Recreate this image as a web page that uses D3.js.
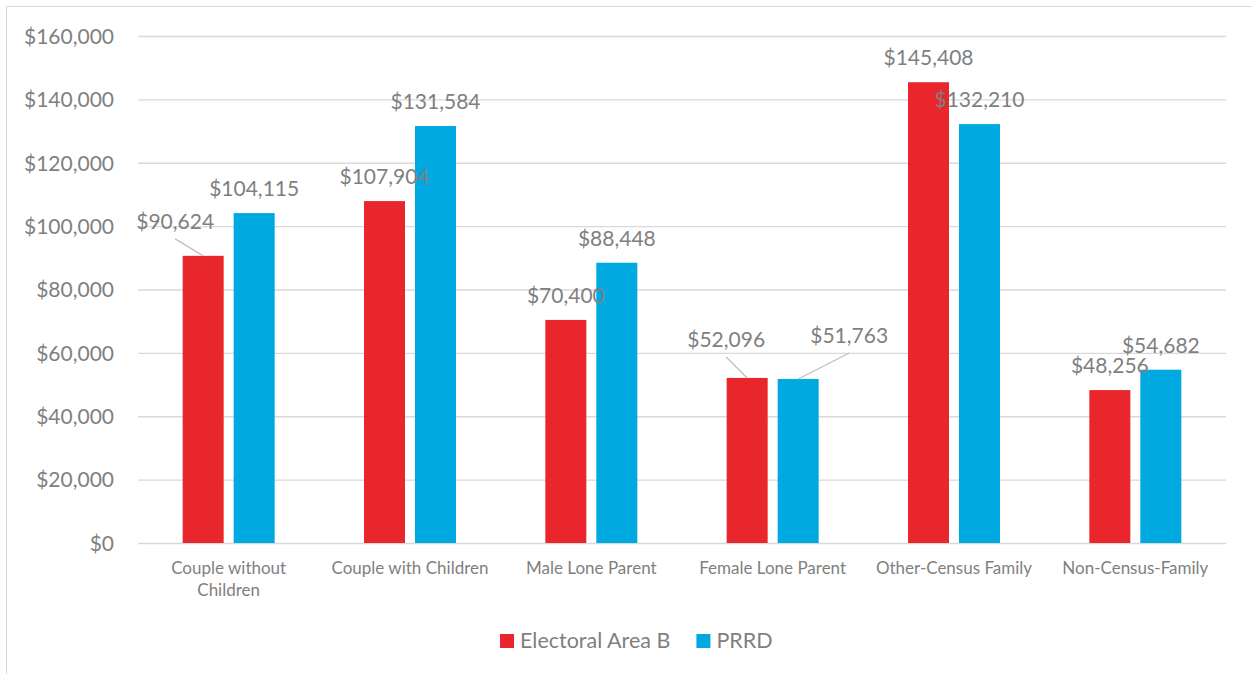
<!DOCTYPE html>
<html>
<head>
<meta charset="utf-8">
<script src="https://cdn.jsdelivr.net/npm/d3@7"></script>
<style>
  body { margin: 0; background: #fff; }
  text { font-family: Lato, "Open Sans", sans-serif; fill: #7f7f7f; }
</style>
</head>
<body>
<div id="chart"></div>
<script>
"use strict"

const WIDTH = 1252;
const HEIGHT = 674;

// data
const categories = [
	["Couple without", "Children"],
	["Couple with Children"],
	["Male Lone Parent"],
	["Female Lone Parent"],
	["Other-Census Family"],
	["Non-Census-Family"]
];
const seriesNames = ["Electoral Area B", "PRRD"];
const electoralB = [90624, 107904, 70400, 52096, 145408, 48256];
const prrd = [104115, 131584, 88448, 51763, 132210, 54682];
const yTicks = [0, 20000, 40000, 60000, 80000, 100000, 120000, 140000, 160000];

// labels that were dragged off their bar (series, category, dx, dy)
const movedLabels = [
	[0, 0, -28, -10],
	[0, 3, -21, -14],
	[1, 3, 51, -19]
];

const colors = ["#e8262b", "#00a9df"];
const margin = {left: 138, right: 26, top: 36, bottom: 131};

var svg = d3.select('#chart')
	.append('svg')
	.attr('width', WIDTH)
	.attr('height', HEIGHT);

// chart frame
svg.append('rect')
	.attr('x', 6.5).attr('y', 6.5)
	.attr('width', WIDTH + 20).attr('height', HEIGHT + 20)
	.style('fill', 'none')
	.style('stroke', '#d9d9d9');

var x = d3.scaleBand()
	.domain(d3.range(categories.length))
	.range([margin.left, WIDTH - margin.right]);

var y = d3.scaleLinear()
	.domain([0, 160000])
	.range([HEIGHT - margin.bottom, margin.top]);

var fmt = d3.format("$,");

// gridlines + y labels
var yAxis = d3.axisLeft(y)
	.tickValues(yTicks)
	.tickSize(-(WIDTH - margin.left - margin.right))
	.tickPadding(24)
	.tickFormat(d => "$" + d3.format(",")(d));

var gy = svg.append('g')
	.attr('transform', 'translate(' + margin.left + ',0)')
	.call(yAxis);
gy.select('.domain').remove();
gy.selectAll('line').style('stroke', '#d9d9d9').style('stroke-width', 1.3);
gy.selectAll('text')
	.style('font-size', '21px')
	.style('fill', '#7f7f7f')
	.attr('dy', '0.35em');

// bars
const BAR_W = 41;
const GAP = 10;
var series = [electoralB, prrd];

function barX(s, i) {
	var c = x(i) + x.bandwidth() / 2;
	return s == 0 ? c - GAP / 2 - BAR_W : c + GAP / 2;
}

series.forEach(function(vals, s) {
	svg.append('g').selectAll('rect')
		.data(vals)
		.enter()
			.append('rect')
			.attr('x', (d, i) => barX(s, i))
			.attr('y', d => y(d))
			.attr('width', BAR_W)
			.attr('height', d => y(0) - y(d))
			.style('fill', colors[s]);
});

// data labels
series.forEach(function(vals, s) {
	vals.forEach(function(v, i) {
		var cx = barX(s, i) + BAR_W / 2;
		var by = y(v) - 17;
		var mv = movedLabels.find(m => m[0] == s && m[1] == i);
		var lx = cx, ly = by;
		if (mv) {
			lx = cx + mv[2];
			ly = by + mv[3];
			svg.append('line')
				.attr('x1', cx).attr('y1', y(v))
				.attr('x2', lx).attr('y2', ly + 10)
				.style('stroke', '#bfbfbf')
				.style('stroke-width', 1.3);
		}
		svg.append('text')
			.attr('x', lx)
			.attr('y', ly)
			.attr('text-anchor', 'middle')
			.style('font-size', '21px')
			.text(fmt(v));
	});
});

// category labels
var cat = svg.append('g').selectAll('text')
	.data(categories)
	.enter()
		.append('text')
		.attr('text-anchor', 'middle')
		.attr('x', (d, i) => x(i) + x.bandwidth() / 2)
		.attr('y', HEIGHT - margin.bottom + 31)
		.style('font-size', '17px');
cat.selectAll('tspan')
	.data(d => d)
	.enter()
		.append('tspan')
		.attr('x', function() { return this.parentNode.getAttribute('x'); })
		.attr('dy', (d, i) => i == 0 ? 0 : 22)
		.text(d => d);

// legend
var legend = svg.append('g');
var lx = 500;
seriesNames.forEach(function(name, s) {
	legend.append('rect')
		.attr('x', lx).attr('y', 634)
		.attr('width', 14).attr('height', 14)
		.style('fill', colors[s]);
	var t = legend.append('text')
		.attr('x', lx + 20)
		.attr('y', 648)
		.style('font-size', '21.5px')
		.text(name);
	lx += 20 + t.node().getComputedTextLength() + 26;
});
</script>
</body>
</html>
